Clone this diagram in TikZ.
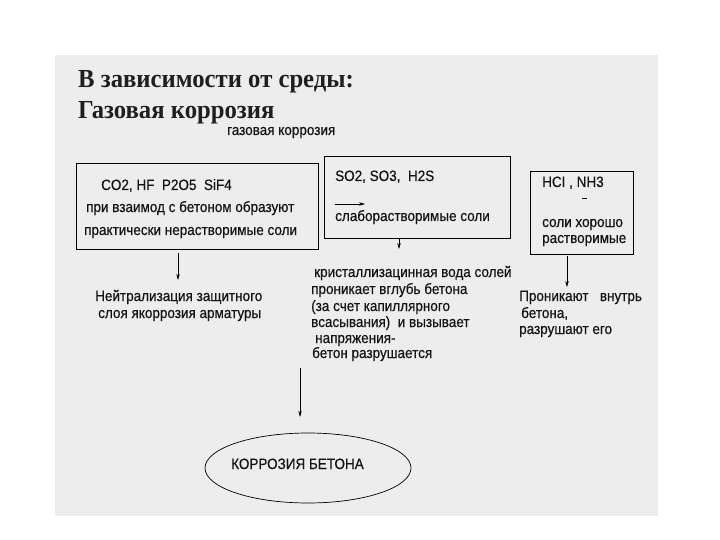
\documentclass[tikz,border=0pt]{standalone}
\usepackage{fontspec}
\setmainfont{Liberation Sans}[FakeStretch=0.9,FakeBold=0.5]
\newfontfamily\titlefont{Liberation Serif}[FakeStretch=0.95]
\usetikzlibrary{arrows.meta,shapes.geometric}
\begin{document}
\begin{tikzpicture}[x=1pt,y=-1pt,
  txt/.style={anchor=base west,inner sep=0pt,font=\fontsize{15}{17}\selectfont,text=black!92},
  ttl/.style={anchor=base west,inner sep=0pt,font=\titlefont\bfseries\fontsize{26}{30}\selectfont,text=black!88},
  boxx/.style={draw,line width=0.8pt,anchor=north west,inner sep=0pt},
  arr/.style={-{Stealth[length=6pt,width=3.5pt]},line width=0.6pt}]
\useasboundingbox (0,0) rectangle (720,540);
\fill[white] (0,0) rectangle (720,540);
\fill[black!7] (55,55) rectangle (658,516);

% titles
\node[ttl] (t1) at (78,88) {В зависимости от среды:};
\node[ttl] (t2) at (78,119) {Газовая коррозия};
\node[txt] (t3) at (227,135) {газовая коррозия};

% boxes
\node[boxx,minimum width=242pt,minimum height=86pt] (b1) at (76,163) {};
\node[boxx,minimum width=186pt,minimum height=82pt] (b2) at (324,156) {};
\node[boxx,minimum width=103pt,minimum height=83pt] (b3) at (530,171) {};

% box 1 text
\node[txt] (b1l1) at (101,190) {CO2, HF\ \ P2O5\ \ SiF4};
\node[txt] (b1l2) at (86,212) {при взаимод с бетоном образуют};
\node[txt] (b1l3) at (84,235) {практически\ нерастворимые соли};

% box 2 text
\node[txt] (b2l1) at (335,181) {SO2, SO3,\ \ H2S};
\coordinate (sa1) at (335,204);
\coordinate (sa2) at (365,204);
\draw[arr,line width=0.5pt] (sa1) -- (sa2);
\node[txt] (b2l2) at (335,221) {слаборастворимые соли};

% box 3 text
\node[txt] (b3l1) at (542,187) {HCI , NH3};
\coordinate (d1) at (582,198);
\coordinate (d2) at (587,198);
\draw[line width=0.6pt] (d1) -- (d2);
\node[txt] (b3l2) at (542,227) {соли хорошо};
\node[txt] (b3l3) at (542,243) {растворимые};

% arrows from boxes
\coordinate (a1s) at (178,253);
\coordinate (a1e) at (178,280);
\draw[arr] (a1s) -- (a1e);
\coordinate (a2s) at (399,239);
\coordinate (a2e) at (399,249);
\draw[arr] (a2s) -- (a2e);
\coordinate (a3s) at (567,256);
\coordinate (a3e) at (567,287);
\draw[arr] (a3s) -- (a3e);

% result texts
\node[txt] (r1l1) at (95,301) {Нейтрализация защитного};
\node[txt] (r1l2) at (98,318) {слоя якоррозия арматуры};

\node[txt] (r2l1) at (314,277) {кристаллизацинная вода солей};
\node[txt] (r2l2) at (311,294) {проникает вглубь бетона};
\node[txt] (r2l3) at (311,311) {(за счет капиллярного};
\node[txt] (r2l4) at (311,327) {всасывания)\ \ и вызывает};
\node[txt] (r2l5) at (315,343) {напряжения-};
\node[txt] (r2l6) at (312,358) {бетон разрушается};

\node[txt] (r3l1) at (519,301) {Проникают\ \ \ внутрь};
\node[txt] (r3l2) at (521,318) {бетона,};
\node[txt] (r3l3) at (519,334) {разрушают его};

% final
\coordinate (fs) at (300,368);
\coordinate (fe) at (300,417);
\draw[arr] (fs) -- (fe);
\node[draw,ellipse,line width=0.7pt,minimum width=206pt,minimum height=70pt,inner sep=0pt] (ell) at (308,468) {};
\node[txt] (et) at (231,469) {КОРРОЗИЯ БЕТОНА};
\end{tikzpicture}
\end{document}
